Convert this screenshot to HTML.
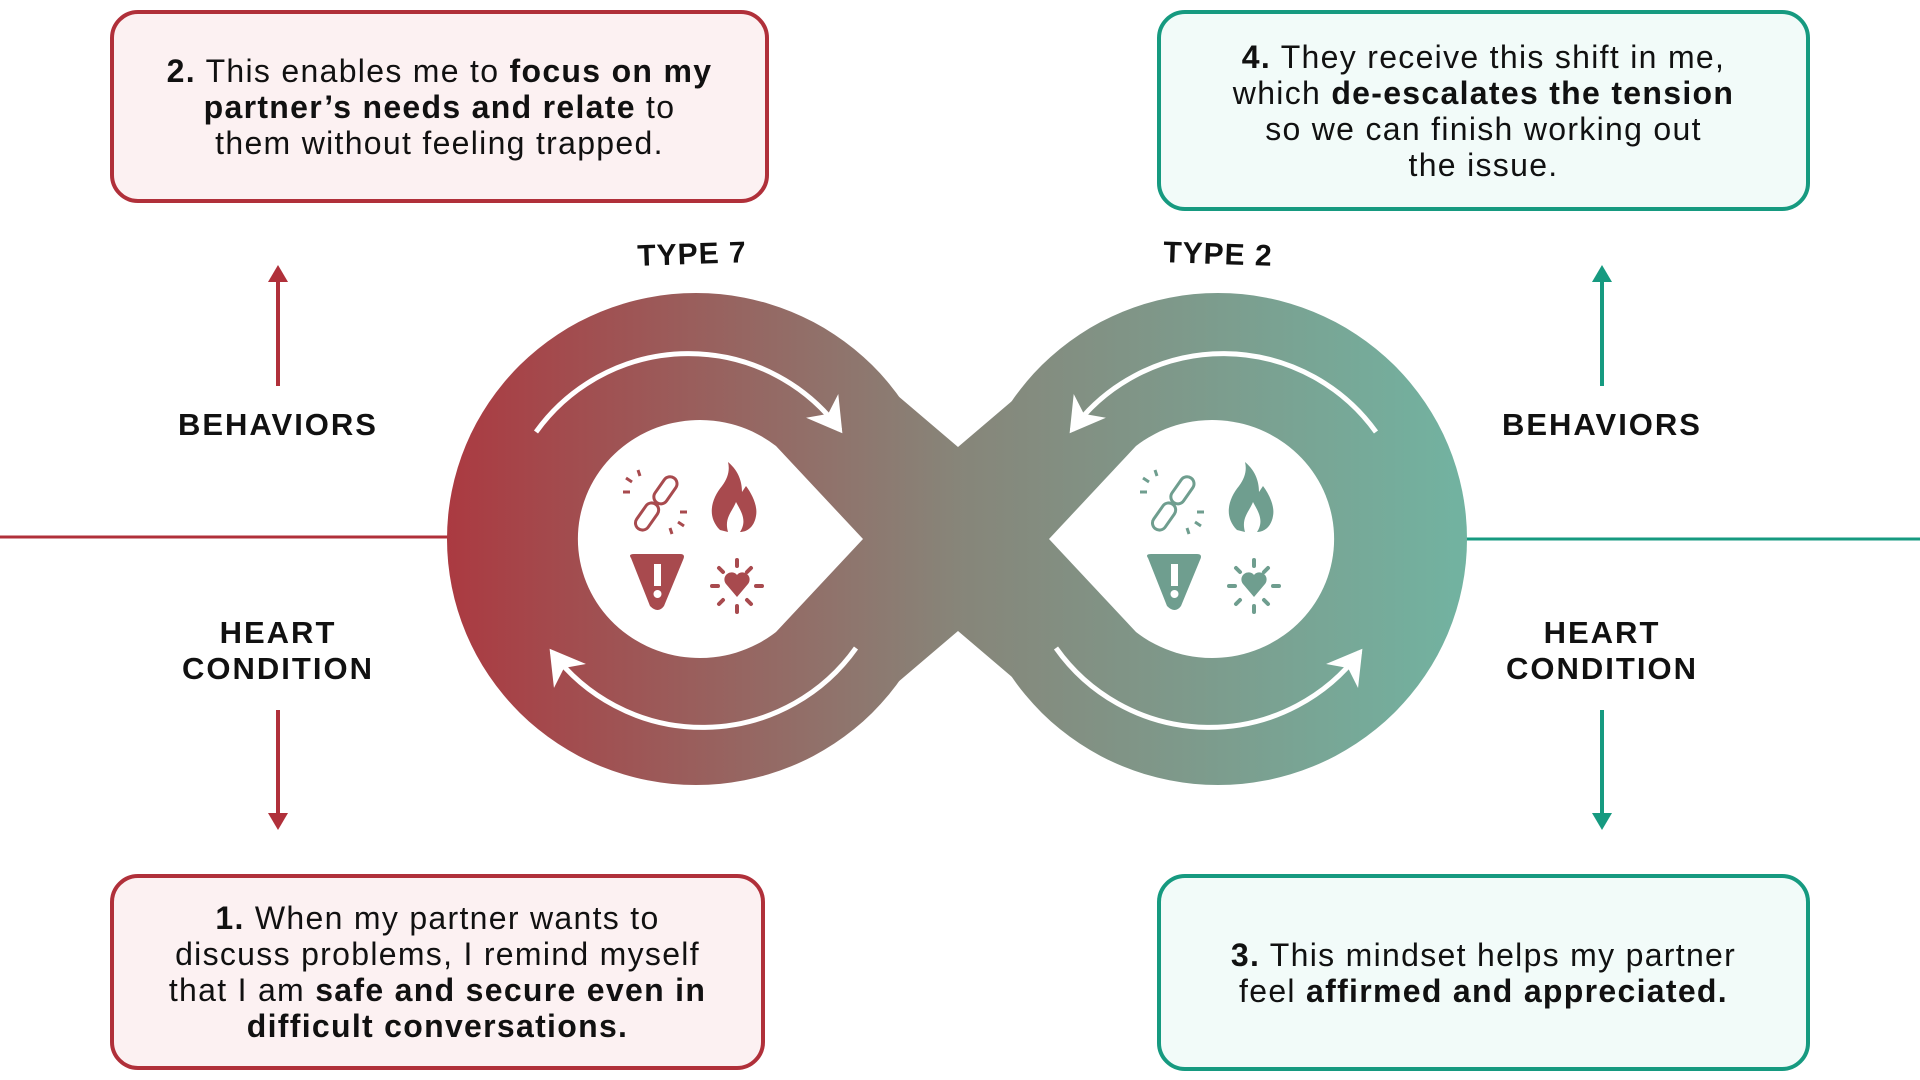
<!DOCTYPE html>
<html><head><meta charset="utf-8"><style>
html,body{margin:0;padding:0;background:#fff;}
body{width:1920px;height:1080px;position:relative;overflow:hidden;font-family:"Liberation Sans",sans-serif;}
.box{position:absolute;box-sizing:border-box;border:4px solid;border-radius:28px;display:flex;align-items:center;justify-content:center;text-align:center;font-size:32px;letter-spacing:1.3px;line-height:36px;color:#111;white-space:nowrap;}
.red{border-color:#b0303a;background:#fcf1f2;}
.grn{border-color:#169a80;background:#f2fbf9;}
.lbl{position:absolute;width:300px;text-align:center;font-weight:bold;font-size:31px;letter-spacing:2px;line-height:36px;color:#111;}
svg{position:absolute;left:0;top:0;}
</style></head><body>
<svg width="1920" height="1080" viewBox="0 0 1920 1080">
<defs>
<linearGradient id="g" gradientUnits="userSpaceOnUse" x1="447" y1="0" x2="1466" y2="0">
<stop offset="0" stop-color="#ab3a41"/><stop offset="0.5" stop-color="#878579"/><stop offset="1" stop-color="#72b3a1"/>
</linearGradient>
<marker id="ah" markerUnits="userSpaceOnUse" markerWidth="50" markerHeight="50" refX="30" refY="20" orient="auto">
<path d="M0,0 L34,20 L0,40 L10,20 Z" fill="#fff"/>
</marker>
<g id="ic" fill="currentColor" stroke="currentColor">
<g transform="translate(656,502)" fill="none" stroke-width="3">
<rect x="-6" y="-30" width="14" height="30" rx="7" transform="rotate(35)"/>
<rect x="-6" y="2" width="14" height="30" rx="7" transform="rotate(35)"/>
<path d="M-24,-20 l-6,-4 M-16,-26 l-2,-6 M-26,-10 l-7,0 M22,20 l6,4 M14,26 l2,6 M24,10 l7,0"/>
</g>
<path stroke="none" d="M720,530 C706,516 712,498 722,486 C728,478 730,470 728,462 C740,472 742,484 742,492 L746,486 C752,494 758,506 756,516 C754,528 746,532 740,532 C748,520 740,510 736,502 C732,512 724,518 728,532 Z"/>
<path stroke="none" d="M631,558 Q628,554 634,554 L680,554 Q686,554 683,560 L664,606 Q658,614 650,606 Z"/>
<rect x="654" y="564" width="7" height="22" fill="#fff" stroke="none"/>
<circle cx="657.5" cy="594" r="4" fill="#fff" stroke="none"/>
<path stroke="none" d="M737,597 L726,584 A7,7 0 0 1 737,575 A7,7 0 0 1 748,584 Z"/>
<g stroke-width="4" stroke-linecap="round">
<path d="M737,560 l0,6 M737,606 l0,6 M712,586 l6,0 M756,586 l6,0 M719,568 l4,4 M751,568 l-4,4 M719,604 l4,-4 M751,604 l-4,-4"/>
</g>
</g>
</defs>
<line x1="0" y1="537" x2="450" y2="537" stroke="#b0303a" stroke-width="3"/>
<line x1="1463" y1="539" x2="1920" y2="539" stroke="#169a80" stroke-width="3"/>
<line x1="278" y1="386" x2="278" y2="280" stroke="#b0303a" stroke-width="4"/>
<path d="M268,282 L278,265 L288,282 Z" fill="#b0303a"/>
<line x1="278" y1="710" x2="278" y2="815" stroke="#b0303a" stroke-width="4"/>
<path d="M268,813 L278,830 L288,813 Z" fill="#b0303a"/>
<line x1="1602" y1="386" x2="1602" y2="280" stroke="#169a80" stroke-width="4"/>
<path d="M1592,282 L1602,265 L1612,282 Z" fill="#169a80"/>
<line x1="1602" y1="710" x2="1602" y2="815" stroke="#169a80" stroke-width="4"/>
<path d="M1592,813 L1602,830 L1612,813 Z" fill="#169a80"/>
<g fill="url(#g)">
<ellipse cx="696" cy="539" rx="249" ry="246"/>
<ellipse cx="1218" cy="539" rx="249" ry="246"/>
<path d="M850,355 L958,447 L1066,355 L1066,723 L958,631 L850,723 Z"/>
</g>
<path d="M863,539 L776,446 A122,119 0 1 0 776,632 Z" fill="#fff"/>
<path d="M1049,539 L1136,446 A122,119 0 1 1 1136,632 Z" fill="#fff"/>
<g fill="none" stroke="#fff" stroke-width="5">
<path d="M536,432 A188,188 0 0 1 840,430" marker-end="url(#ah)"/>
<path d="M856,648 A188,188 0 0 1 552,652" marker-end="url(#ah)"/>
<path d="M1376,432 A188,188 0 0 0 1072,430" marker-end="url(#ah)"/>
<path d="M1056,648 A188,188 0 0 0 1360,652" marker-end="url(#ah)"/>
</g>
<use href="#ic" style="color:#a84a4e"/>
<use href="#ic" transform="translate(517,0)" style="color:#6f9e8f"/>
<g fill="#111" font-family="Liberation Sans,sans-serif" font-weight="bold" font-size="30" letter-spacing="1" text-anchor="middle">
<text x="692" y="264" transform="rotate(-2 692 254)">TYPE 7</text>
<text x="1218" y="264" transform="rotate(2 1218 254)">TYPE 2</text>
</g>
</svg>
<div class="box red" style="left:110px;top:10px;width:659px;height:193px;"><div><b>2.</b> This enables me to <b>focus on my<br>partner’s needs and relate</b> to<br>them without feeling trapped.</div></div>
<div class="box grn" style="left:1157px;top:10px;width:653px;height:201px;"><div><b>4.</b> They receive this shift in me,<br>which <b>de-escalates the tension</b><br>so we can finish working out<br>the issue.</div></div>
<div class="box red" style="left:110px;top:874px;width:655px;height:196px;"><div><b>1.</b> When my partner wants to<br>discuss problems, I remind myself<br>that I am <b>safe and secure even in<br>difficult conversations.</b></div></div>
<div class="box grn" style="left:1157px;top:874px;width:653px;height:197px;"><div><b>3.</b> This mindset helps my partner<br>feel <b>affirmed and appreciated.</b></div></div>
<div class="lbl" style="left:128px;top:407px;">BEHAVIORS</div>
<div class="lbl" style="left:1452px;top:407px;">BEHAVIORS</div>
<div class="lbl" style="left:128px;top:615px;">HEART<br>CONDITION</div>
<div class="lbl" style="left:1452px;top:615px;">HEART<br>CONDITION</div>
</body></html>
